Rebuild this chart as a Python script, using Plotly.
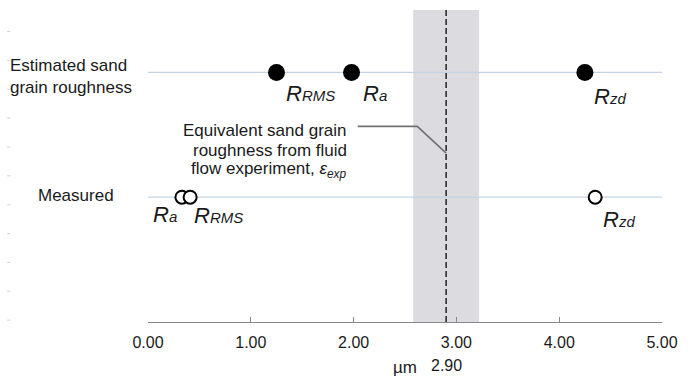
import plotly.graph_objects as go

# ---- data ----
row_names = ["Estimated sand<br>grain roughness", "Measured"]
row_levels = [8, 4]

est_labels = ["RMS", "a", "zd"]
est_values = [1.25, 1.98, 4.25]

meas_labels = ["a", "RMS", "zd"]
meas_values = [0.33, 0.41, 4.35]

exp_value = 2.90
exp_low, exp_high = 2.58, 3.22

tick_vals = [0, 1, 2, 3, 4, 5]
tick_text = ["0.00", "1.00", "2.00", "3.00", "4.00", "5.00"]

note_lines = ["Equivalent sand grain", "roughness from fluid",
              "flow experiment, <i>ε</i><sub><i>exp</i></sub>"]
note_levels = [6.14, 5.50, 4.86]

FONT = "Liberation Sans, Arial, sans-serif"
TXT = "#1a1a1a"
FS = 17

fig = go.Figure()

# shaded experimental band
fig.add_shape(type="rect", xref="x", yref="y", x0=exp_low, x1=exp_high, y0=0, y1=10,
              fillcolor="#dcdbe0", line_width=0, layer="below")
# dashed line at experimental value
fig.add_shape(type="line", xref="x", yref="y", x0=exp_value, x1=exp_value, y0=0, y1=10.05,
              line=dict(color="#222222", width=1.5, dash="6px,3px"))

# row lines
for lvl in row_levels:
    fig.add_shape(type="line", xref="x", yref="y", x0=0, x1=5, y0=lvl, y1=lvl,
                  line=dict(color="#c3d3e6", width=1.2), layer="below")

# estimated (filled)
fig.add_trace(go.Scatter(x=est_values, y=[row_levels[0]] * len(est_values), mode="markers",
                         marker=dict(size=17, color="black", line=dict(color="black", width=0)),
                         showlegend=False, hoverinfo="skip"))
# measured (open)
fig.add_trace(go.Scatter(x=meas_values, y=[row_levels[1]] * len(meas_values), mode="markers",
                         marker=dict(size=13, color="white", line=dict(color="black", width=2)),
                         showlegend=False, hoverinfo="skip"))

def rlabel(sub):
    return f"<i>R</i><span style='font-size:15px'><i>{sub}</i></span>"

est_offsets = {"RMS": (7, -21, "left"), "a": (9, -21, "left"), "zd": (7, -24, "left")}
for lab, v in zip(est_labels, est_values):
    dx, dy, anc = est_offsets[lab]
    fig.add_annotation(x=v, y=row_levels[0], xref="x", yref="y", text=rlabel(lab),
                       showarrow=False, xanchor=anc, yanchor="middle", xshift=dx, yshift=dy,
                       font=dict(family=FONT, size=22, color=TXT))

meas_offsets = {"a": (-3, -17, "right"), "RMS": (2, -18, "left"), "zd": (6, -22, "left")}
for lab, v in zip(meas_labels, meas_values):
    dx, dy, anc = meas_offsets[lab]
    fig.add_annotation(x=v, y=row_levels[1], xref="x", yref="y", text=rlabel(lab),
                       showarrow=False, xanchor=anc, yanchor="middle", xshift=dx, yshift=dy,
                       font=dict(family=FONT, size=22, color=TXT))

# row names
fig.add_annotation(x=0, y=row_levels[0], xref="paper", yref="y", text=row_names[0],
                   showarrow=False, xanchor="center", yanchor="middle", xshift=-77, yshift=-4,
                   align="left", font=dict(family=FONT, size=FS, color=TXT))
fig.add_annotation(x=0, y=row_levels[1], xref="paper", yref="y", text=row_names[1],
                   showarrow=False, xanchor="center", yanchor="middle", xshift=-72, yshift=2,
                   font=dict(family=FONT, size=FS, color=TXT))

# leader line and annotation text
fig.add_shape(type="path", xref="x", yref="y",
              path=f"M 2.04 6.27 L 2.62 6.27 L {exp_value} 5.41",
              line=dict(color="#707070", width=1.6))
for txt, lvl in zip(note_lines, note_levels):
    fig.add_annotation(x=1.96, y=lvl, xref="x", yref="y", text=txt,
                       showarrow=False, xanchor="right", yanchor="middle", align="right",
                       font=dict(family=FONT, size=FS, color=TXT))

# axis unit and experimental value label under the axis
fig.add_annotation(x=0.5, y=0, xref="paper", yref="paper", text="µm",
                   showarrow=False, xanchor="center", yanchor="middle", yshift=-45,
                   font=dict(family=FONT, size=FS, color=TXT))
fig.add_annotation(x=exp_value, y=0, xref="x", yref="paper", text=f"{exp_value:.2f}",
                   showarrow=False, xanchor="center", yanchor="middle", yshift=-43,
                   font=dict(family=FONT, size=FS - 1, color=TXT))

# faint left-edge ticks
for i in range(12):
    yv = 0.06 + i * 0.925
    fig.add_shape(type="line", xref="paper", yref="y", x0=-0.274, x1=-0.268, y0=yv, y1=yv,
                  line=dict(color="#d0d0d0", width=1))

fig.update_layout(
    width=688, height=379,
    margin=dict(l=148, r=21, t=10, b=57),
    paper_bgcolor="white", plot_bgcolor="white",
    font=dict(family=FONT, color=TXT),
    xaxis=dict(range=[0, 5], tickvals=tick_vals, ticktext=tick_text,
               showgrid=False, zeroline=False, showline=True, linecolor="#888888", linewidth=1,
               ticks="inside", ticklen=5, tickcolor="#888888", ticklabelstandoff=6,
               tickfont=dict(family=FONT, size=FS - 1, color=TXT)),
    yaxis=dict(range=[0, 10], visible=False, showgrid=False, zeroline=False),
)

fig.write_html("out.html")
